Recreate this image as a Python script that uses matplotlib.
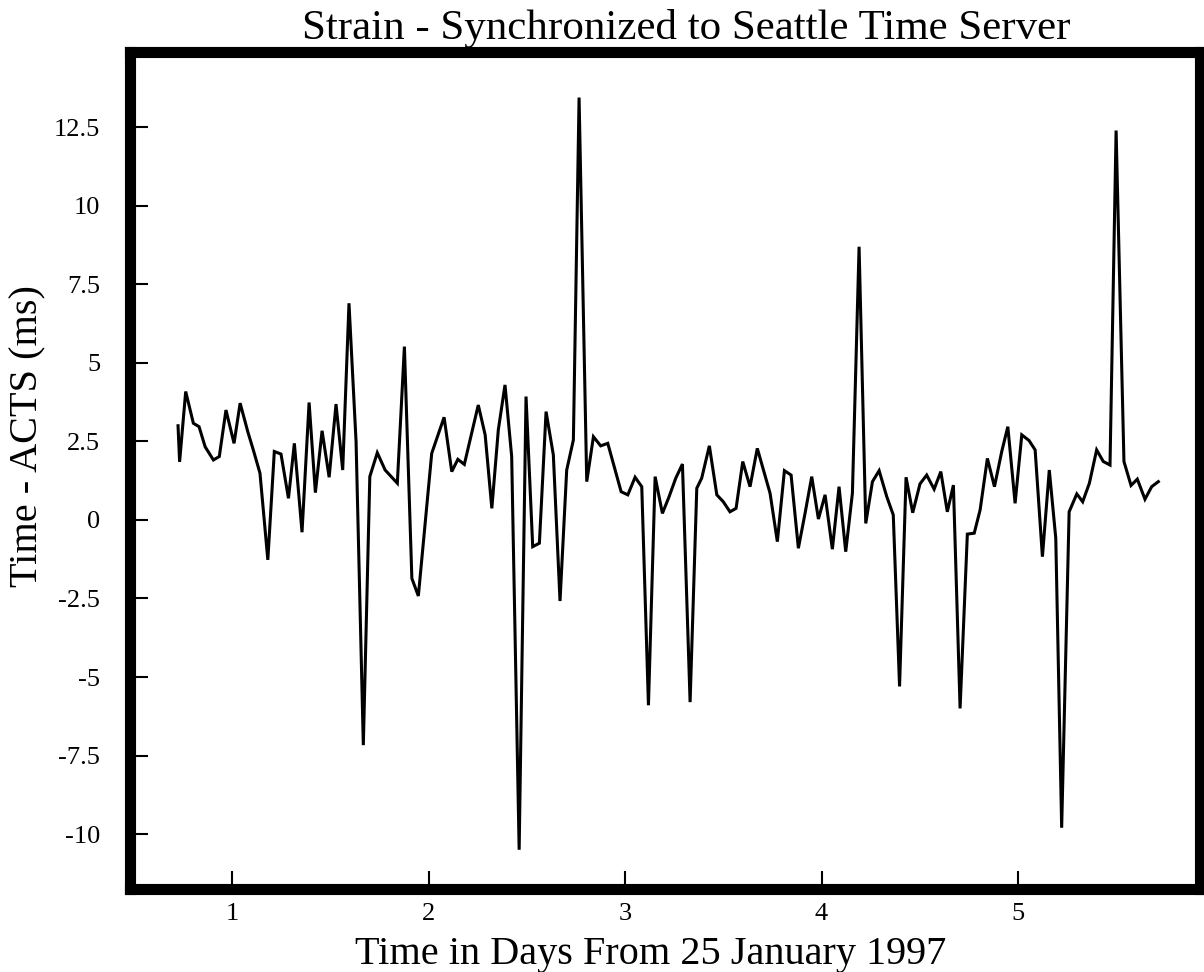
import matplotlib
matplotlib.use("Agg")
import matplotlib.pyplot as plt
from matplotlib.ticker import FixedLocator, FuncFormatter

# Time in days from 25 January 1997
days = [0.725, 0.733, 0.764, 0.803, 0.832, 0.863, 0.905, 0.935, 0.969, 1.010,
        1.041, 1.080, 1.108, 1.142, 1.182, 1.215, 1.249, 1.287, 1.317, 1.356,
        1.392, 1.424, 1.458, 1.494, 1.529, 1.563, 1.595, 1.631, 1.668, 1.701,
        1.739, 1.779, 1.841, 1.877, 1.915, 1.948, 2.016, 2.079, 2.118, 2.149,
        2.182, 2.253, 2.288, 2.322, 2.355, 2.389, 2.423, 2.461, 2.496, 2.530,
        2.564, 2.598, 2.635, 2.669, 2.703, 2.737, 2.766, 2.805, 2.839, 2.876,
        2.912, 2.980, 3.014, 3.051, 3.085, 3.119, 3.153, 3.190, 3.224, 3.258,
        3.292, 3.331, 3.365, 3.390, 3.429, 3.467, 3.500, 3.534, 3.565, 3.599,
        3.636, 3.673, 3.738, 3.775, 3.811, 3.845, 3.882, 3.916, 3.950, 3.984,
        4.018, 4.055, 4.089, 4.123, 4.157, 4.191, 4.225, 4.259, 4.293, 4.332,
        4.365, 4.397, 4.430, 4.464, 4.501, 4.535, 4.573, 4.607, 4.640, 4.671,
        4.705, 4.742, 4.777, 4.807, 4.844, 4.880, 4.917, 4.948, 4.985, 5.019,
        5.056, 5.087, 5.124, 5.159, 5.192, 5.222, 5.260, 5.299, 5.329, 5.363,
        5.400, 5.434, 5.468, 5.499, 5.539, 5.575, 5.607, 5.646, 5.680, 5.714]

# Time - ACTS offset (ms)
offset_ms = [3.00, 1.85, 4.09, 3.08, 2.97, 2.33, 1.91, 2.02, 3.50, 2.44,
             3.72, 2.81, 2.23, 1.49, -1.27, 2.18, 2.10, 0.69, 2.44, -0.39,
             3.74, 0.87, 2.84, 1.36, 3.69, 1.59, 6.90, 2.50, -7.17, 1.38,
             2.14, 1.59, 1.17, 5.52, -1.86, -2.42, 2.12, 3.27, 1.54, 1.93,
             1.77, 3.66, 2.71, 0.37, 2.87, 4.30, 2.02, -10.50, 3.93, -0.85,
             -0.74, 3.45, 2.07, -2.58, 1.59, 2.55, 13.45, 1.22, 2.65, 2.36,
             2.44, 0.90, 0.80, 1.36, 1.06, -5.90, 1.38, 0.21, 0.74, 1.33,
             1.78, -5.80, 1.01, 1.33, 2.36, 0.80, 0.58, 0.26, 0.37, 1.86,
             1.06, 2.28, 0.85, -0.69, 1.57, 1.43, -0.90, 0.21, 1.38, 0.03,
             0.80, -0.93, 1.06, -1.01, 0.85, 8.70, -0.11, 1.22, 1.57, 0.74,
             0.16, -5.30, 1.36, 0.23, 1.15, 1.43, 0.98, 1.54, 0.26, 1.11,
             -6.00, -0.45, -0.42, 0.32, 1.96, 1.06, 2.18, 2.97, 0.53, 2.71,
             2.53, 2.23, -1.17, 1.59, -0.58, -9.80, 0.26, 0.83, 0.58, 1.17,
             2.23, 1.86, 1.75, 12.40, 1.86, 1.10, 1.30, 0.66, 1.06, 1.22]

x_ticks = [1, 2, 3, 4, 5]
y_ticks = [12.5, 10, 7.5, 5, 2.5, 0, -2.5, -5, -7.5, -10]

title = "Strain - Synchronized to Seattle Time Server"
x_label = "Time in Days From 25 January 1997"
y_label = "Time - ACTS (ms)"

plt.rcParams['font.family'] = ['Liberation Serif', 'DejaVu Serif']

W, H = 1204, 972
fig = plt.figure(figsize=(W / 100, H / 100), dpi=100)
ax = fig.add_axes([129.5 / W, 1 - 889 / H, (1200 - 129.5) / W, (889 - 52) / H])

ax.plot(days, offset_ms, color='black', linewidth=2.2, solid_joinstyle='miter')

ax.set_xlim(0.478, 5.926)
ax.set_ylim(-11.75, 14.9)

ax.xaxis.set_major_locator(FixedLocator(x_ticks))
ax.yaxis.set_major_locator(FixedLocator(y_ticks))
ax.xaxis.set_major_formatter(FuncFormatter(lambda v, p: f"{v:g}"))
ax.yaxis.set_major_formatter(FuncFormatter(lambda v, p: f"{v:g}"))

for s in ax.spines.values():
    s.set_linewidth(8)
    s.set_color('black')

ax.tick_params(axis='both', direction='in', length=13, width=1.5,
               labelsize=19, top=False, right=False)
ax.tick_params(axis='y', pad=21)
ax.tick_params(axis='x', pad=10)

fig.text(686 / W, 1 - 29 / H, title, ha='center', va='center', fontsize=31)
fig.text(651 / W, 1 - 954 / H, x_label, ha='center', va='center', fontsize=29)
fig.text(28 / W, 1 - 436 / H, y_label, ha='center', va='center', fontsize=29,
         rotation=90)

fig.savefig("out.png", dpi=100)
